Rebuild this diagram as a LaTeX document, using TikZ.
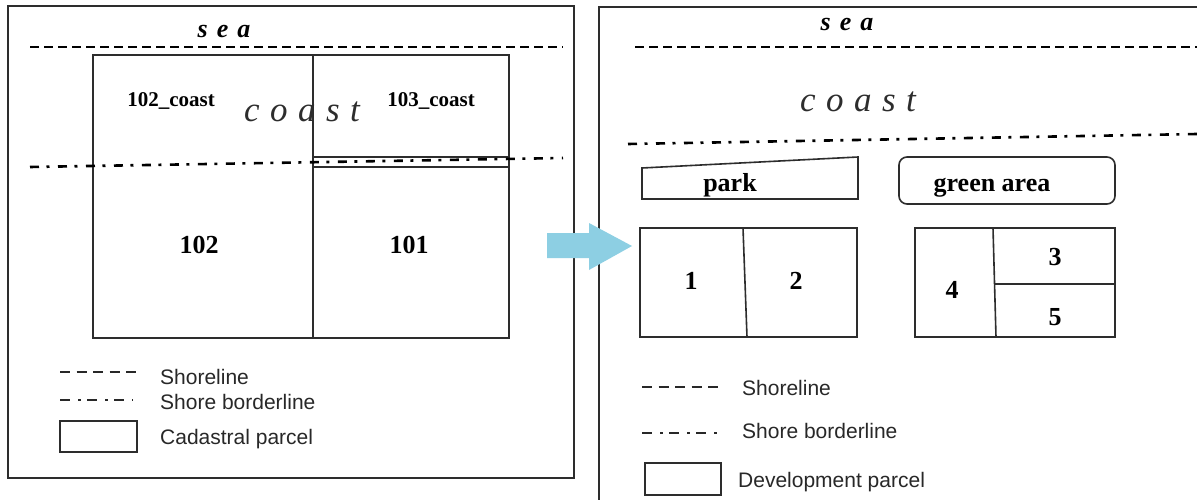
\documentclass[tikz,border=0pt]{standalone}
\usepackage{fontspec}
\setmainfont{Liberation Serif}
\newfontfamily\legendfont{Liberation Sans}
\definecolor{framegray}{RGB}{45,45,45}
\definecolor{legendgray}{RGB}{40,40,40}
\definecolor{arrowblue}{RGB}{141,207,227}
\begin{document}
\begin{tikzpicture}[x=1pt,y=-1pt,
  frame/.style={draw=framegray, line width=1.5pt},
  parcel/.style={draw=framegray, line width=1.6pt},
  shore/.style={line width=2.8pt, dash pattern=on 9pt off 5pt},
  border/.style={line width=2.6pt, dash pattern=on 9pt off 7.5pt on 3pt off 8.5pt},
  legshore/.style={line width=2pt, draw=legendgray, dash pattern=on 10pt off 6.5pt},
  legborder/.style={line width=2pt, draw=legendgray, dash pattern=on 10pt off 8pt on 3pt off 6pt},
  lab/.style={font=\fontsize{26}{26}\bfseries\selectfont, anchor=base, inner sep=0pt},
  small/.style={font=\fontsize{21}{21}\bfseries\selectfont, anchor=base, inner sep=0pt},
  sealab/.style={font=\fontsize{26}{26}\bfseries\itshape\selectfont, anchor=base, inner sep=0pt},
  coastlab/.style={font=\fontsize{35}{35}\itshape\selectfont, anchor=base, inner sep=0pt, text=framegray},
  legtext/.style={font=\legendfont\fontsize{21}{21}\selectfont, text=legendgray, anchor=west, inner sep=0pt}
]
\clip (0,0) rectangle (1197,500);
\fill[white] (0,0) rectangle (1197,500);

% ---------- left panel ----------
\draw[frame] (8,6) rectangle (574,478);
\node[sealab] (seaL) at (224,38) {s\kern9pt e\kern9pt a};
\draw[shore] (30,47) -- (563,47);
\draw[parcel] (93,55) rectangle (509,338);
\draw[parcel] (313,55) -- (313,338);
\draw[parcel] (313,157) -- (509,157);
\draw[parcel] (313,167) -- (509,167);
\draw[border] (30,167) -- (563,158);
\node[small] (c102) at (171,107) {102\_coast};
\node[small] (c103) at (431,107) {103\_coast};
\node[coastlab] (coastL) at (302,122) {c\kern10.5pt o\kern10.5pt a\kern10.5pt s\kern10.5pt t};
\node[lab] (p102) at (199,253) {102};
\node[lab] (p101) at (409,253) {101};
% legend left
\draw[legshore] (60,372) -- (137,372);
\node[legtext] (lsL) at (160,377) {Shoreline};
\draw[legborder] (60,400) -- (133,400);
\node[legtext] (lbL) at (160,402) {Shore borderline};
\draw[frame] (60,421) rectangle (137,452);
\node[legtext] (lcL) at (160,439) {Cadastral parcel};

% ---------- right panel ----------
\draw[frame] (1240,7) -- (599,7) -- (599,540);
\node[sealab] (seaR) at (847,31) {s\kern9pt e\kern9pt a};
\draw[shore] (635,47) -- (1197,47);
\node[coastlab] (coastR) at (858,112) {c\kern10.5pt o\kern10.5pt a\kern10.5pt s\kern10.5pt t};
\draw[border] (628,144) -- (1197,134);
\draw[parcel] (642,168) -- (858,157) -- (858,199) -- (642,199) -- cycle;
\node[lab] (park) at (730,191) {park};
\draw[parcel, rounded corners=8pt] (899,157) rectangle (1115,204);
\node[lab] (green) at (992,191) {green area};
\draw[parcel] (640,228) rectangle (857,337);
\draw[parcel] (743,228) -- (747,337);
\node[lab] (n1) at (691,289) {1};
\node[lab] (n2) at (796,289) {2};
\draw[parcel] (915,228) rectangle (1115,337);
\draw[parcel] (993,228) -- (996,337);
\draw[parcel] (994,284) -- (1115,284);
\node[lab] (n4) at (952,298) {4};
\node[lab] (n3) at (1055,265) {3};
\node[lab] (n5) at (1055,325) {5};
% legend right
\draw[legshore] (642,387) -- (721,387);
\node[legtext] (lsR) at (742,388) {Shoreline};
\draw[legborder] (642,433) -- (717,433);
\node[legtext] (lbR) at (742,431) {Shore borderline};
\draw[frame] (645,463) rectangle (721,495);
\node[legtext] (ldR) at (738,482) {Development parcel};

% ---------- arrow ----------
\fill[arrowblue] (547,233) -- (589,233) -- (589,223) -- (632,246) -- (589,270) -- (589,258) -- (547,258) -- cycle;
\end{tikzpicture}
\end{document}
